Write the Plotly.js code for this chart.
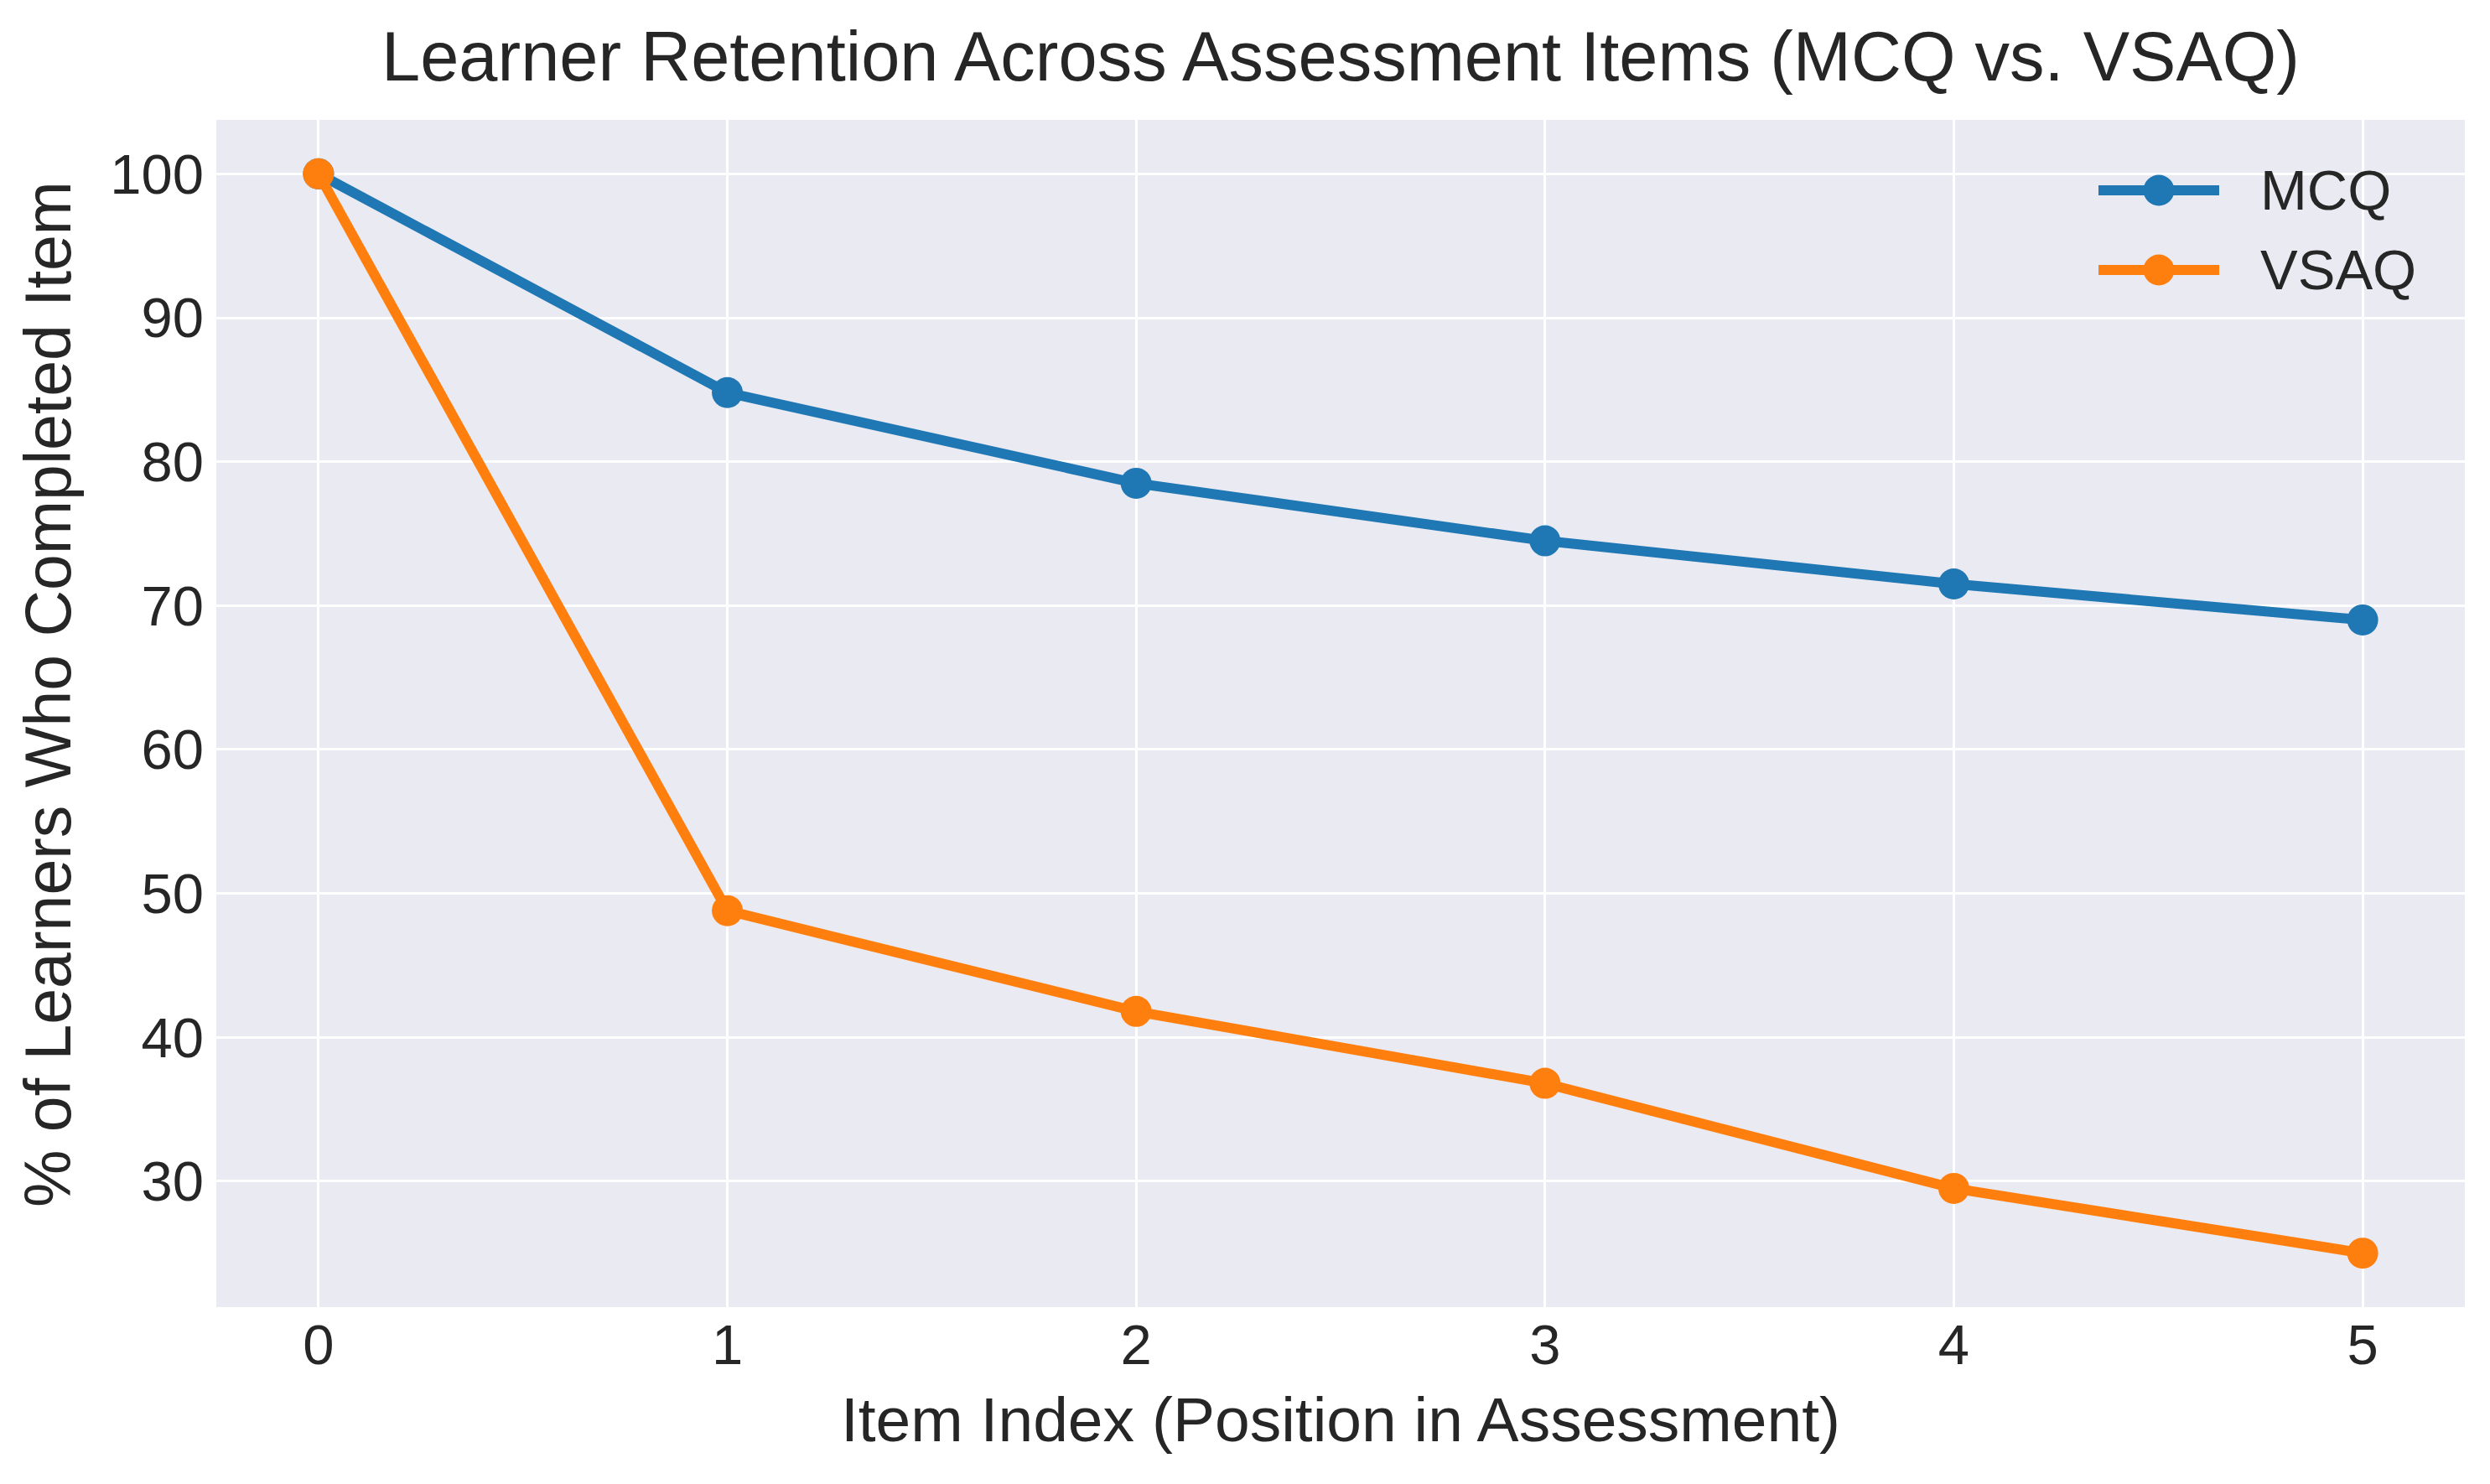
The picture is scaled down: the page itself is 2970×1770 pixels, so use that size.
<!DOCTYPE html>
<html>
<head>
<meta charset="utf-8">
<script src="https://cdn.plot.ly/plotly-3.0.1.min.js"></script>
<style>
  html, body { margin: 0; padding: 0; background: #ffffff; }
  #chart { width: 2970px; height: 1770px; }
</style>
</head>
<body>
<div id="chart"></div>
<script>
// Item positions within the assessment
const itemIndex = [0, 1, 2, 3, 4, 5];
// Percentage of learners who completed each item
const mcqRetention = [100, 84.8, 78.5, 74.5, 71.5, 69.0];
const vsaqRetention = [100, 48.8, 41.8, 36.8, 29.5, 25.0];
// Tick labels
const xTicks = [0, 1, 2, 3, 4, 5];
const yTicks = [30, 40, 50, 60, 70, 80, 90, 100];

const FONT = '"Liberation Sans", Arial, Helvetica, sans-serif';
const INK = '#262626';
const COLORS = ['#1f77b4', '#ff7f0e'];

// Figure geometry (pixels)
const W = 2970, H = 1770;
const M = { l: 258, r: 30, t: 143, b: 211 };
const plotW = W - M.l - M.r, plotH = H - M.t - M.b;
const px = v => (v - M.l) / plotW;          // page x -> paper x
const py = v => (H - M.b - v) / plotH;      // page y -> paper y

const traces = [
  {
    x: itemIndex, y: mcqRetention, name: 'MCQ',
    type: 'scatter', mode: 'lines+markers',
    line: { color: COLORS[0], width: 12 },
    marker: { color: COLORS[0], size: 37 }
  },
  {
    x: itemIndex, y: vsaqRetention, name: 'VSAQ',
    type: 'scatter', mode: 'lines+markers',
    line: { color: COLORS[1], width: 12 },
    marker: { color: COLORS[1], size: 37 }
  }
];

// Legend drawn as layout shapes and annotations so the symbols keep full marker size
const legendRows = [227, 322];
const legendLine = { x0: 2503, x1: 2647 };
const markerR = 18.5;
const shapes = [];
const annotations = [];
traces.forEach((tr, i) => {
  const yc = legendRows[i];
  const xc = (legendLine.x0 + legendLine.x1) / 2;
  shapes.push({
    type: 'line', xref: 'paper', yref: 'paper', layer: 'above',
    x0: px(legendLine.x0), x1: px(legendLine.x1), y0: py(yc), y1: py(yc),
    line: { color: tr.line.color, width: 12 }
  });
  shapes.push({
    type: 'circle', xref: 'paper', yref: 'paper', layer: 'above',
    x0: px(xc - markerR), x1: px(xc + markerR), y0: py(yc + markerR), y1: py(yc - markerR),
    fillcolor: tr.marker.color, line: { width: 0 }
  });
  annotations.push({
    text: tr.name, xref: 'paper', yref: 'paper',
    x: px(2694), y: py(yc), xanchor: 'left', yanchor: 'middle',
    showarrow: false, font: { family: FONT, size: 67, color: INK }
  });
});

// Y axis label
annotations.push({
  text: '% of Learners Who Completed Item', xref: 'paper', yref: 'paper',
  x: px(57), y: py(828), xanchor: 'center', yanchor: 'middle', textangle: -90,
  showarrow: false, font: { family: FONT, size: 77, color: INK }
});

const layout = {
  width: W, height: H,
  paper_bgcolor: '#ffffff',
  plot_bgcolor: '#EAEAF2',
  margin: { l: M.l, r: M.r, t: M.t, b: M.b, pad: 0 },
  font: { family: FONT, color: INK, size: 67 },
  title: {
    text: 'Learner Retention Across Assessment Items (MCQ vs. VSAQ)',
    font: { family: FONT, size: 83, color: INK },
    x: px(1599), xanchor: 'center', xref: 'paper',
    yref: 'container', y: 1 - 67 / H, yanchor: 'middle'
  },
  xaxis: {
    range: [-0.25, 5.25],
    tickvals: xTicks, ticktext: xTicks.map(String),
    showgrid: true, gridcolor: '#ffffff', gridwidth: 3,
    zeroline: false, showline: false, ticks: '',
    tickfont: { family: FONT, size: 67, color: INK },
    automargin: false,
    title: { text: 'Item Index (Position in Assessment)', font: { family: FONT, size: 75, color: INK }, standoff: 26 }
  },
  yaxis: {
    range: [21.25, 103.75],
    tickvals: yTicks, ticktext: yTicks.map(String),
    showgrid: true, gridcolor: '#ffffff', gridwidth: 3,
    zeroline: false, showline: false, ticks: '',
    ticklabelstandoff: 14,
    tickfont: { family: FONT, size: 67, color: INK },
    automargin: false
  },
  shapes: shapes,
  annotations: annotations,
  showlegend: false
};

Plotly.newPlot('chart', traces, layout, { displayModeBar: false, staticPlot: true });
</script>
</body>
</html>
